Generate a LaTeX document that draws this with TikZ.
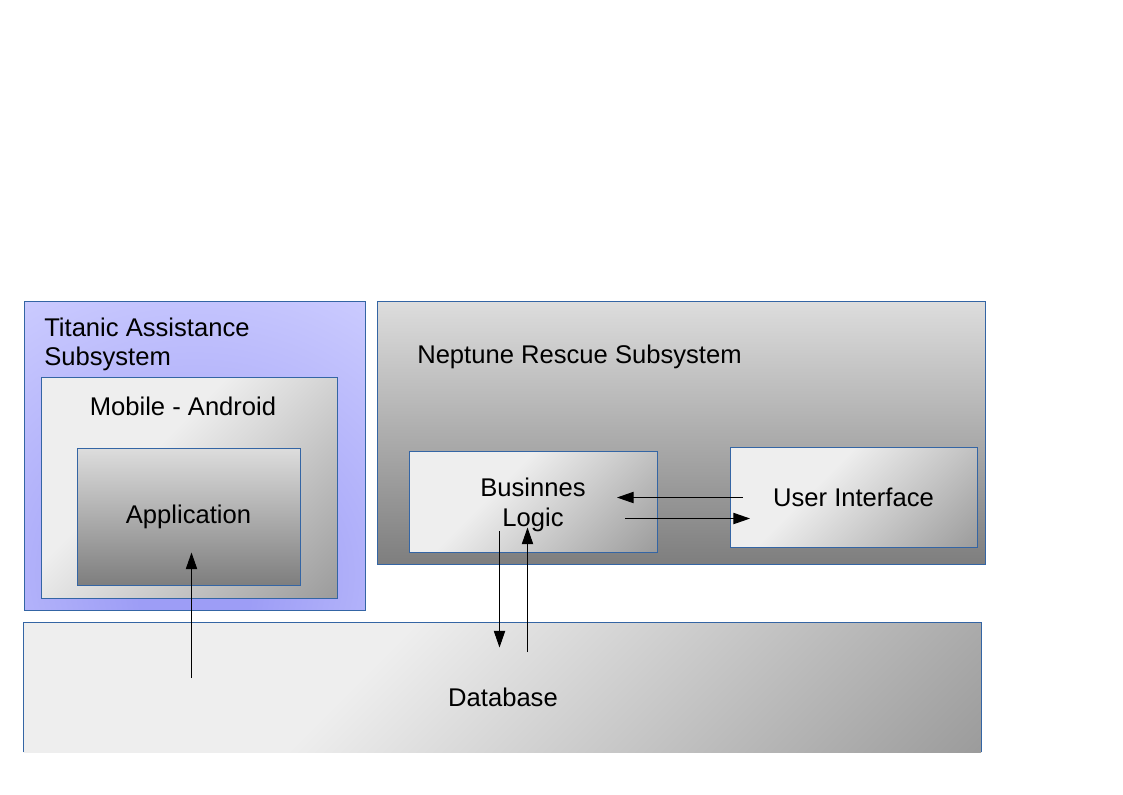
\documentclass[tikz,border=0pt]{standalone}
\usepackage{fontspec}
\setmainfont{Liberation Sans}
\usetikzlibrary{arrows.meta}

\definecolor{edgeblue}{HTML}{3465A4}
\definecolor{shlight}{HTML}{EEEEEE}
\definecolor{shdark}{HTML}{979797}
\definecolor{lavlight}{HTML}{CDCDFF}
\definecolor{lavdark}{HTML}{9D9DF6}
\definecolor{vtop}{HTML}{DDDDDD}
\definecolor{vbottom}{HTML}{7E7E7E}

\pgfdeclarehorizontalshading{diagfill}{100bp}{color(0bp)=(shlight); color(40bp)=(shlight); color(88bp)=(shdark); color(100bp)=(shdark)}
\pgfdeclareradialshading{lavglow}{\pgfpoint{0bp}{-25bp}}{color(0bp)=(lavdark); color(8bp)=(lavdark); color(48bp)=(lavlight); color(100bp)=(lavlight)}

\tikzset{
    box/.style={draw=edgeblue, line width=0.6pt, inner sep=0pt, align=center,
        font=\fontsize{19.2pt}{22.5pt}\selectfont},
    diag/.style={box, shade, shading=diagfill, shading angle=-45},
    fade/.style={box, top color=vtop, bottom color=vbottom},
    glow/.style={box, shade, shading=lavglow},
    title/.style={inner sep=0pt, align=left, font=\fontsize{19.2pt}{21.75pt}\selectfont},
    flow/.style={-{Triangle[length=12.5pt,width=8.5pt]}, line width=0.7pt}
}

\begin{document}
\begin{tikzpicture}[x=0.75pt,y=-0.75pt]
        \useasboundingbox (0,0) rectangle (1123,794);
        \node[glow, minimum width=255.75pt, minimum height=231.75pt] (titanic) at (194.5,455.5) {};
        \node[title, anchor=north west] (titanicTitle) at (44,317.5) {Titanic Assistance\\Subsystem};
        \node[diag, minimum width=222pt, minimum height=165.75pt] (mobile) at (189,487.5) {};
        \node[title, anchor=base] (mobileTitle) at (183,415) {Mobile - Android};
        \node[fade, minimum width=167.25pt, minimum height=102.75pt] (app) at (188.5,516.5) {Application};
        \node[fade, minimum width=456pt, minimum height=197.25pt] (neptune) at (681,432.5) {};
        \node[title, anchor=base west] (neptuneTitle) at (417,363.5) {Neptune Rescue Subsystem};
        \node[diag, minimum width=186pt, minimum height=75.75pt] (logic) at (533,501.5) {\raisebox{-2.2pt}[\height][\depth]{\parbox{4cm}{\centering Businnes\\Logic}}};
        \node[diag, minimum width=185.25pt, minimum height=75pt] (ui) at (853.5,497) {User Interface};
        \node[diag, draw=none, minimum width=717.75pt, minimum height=96.75pt] (db) at (502.5,687.5) {};
        \draw[edgeblue, line width=0.6pt] (db.south west) -- (db.north west) -- (db.north east) -- (db.south east);
        \node[title] (dbTitle) at (503,697) {Database};
        \coordinate (dbApp) at (191.5,678);
        \coordinate (appIn) at (191.5,552.5);
        \coordinate (logicOut) at (499.5,531);
        \coordinate (dbIn) at (499.5,647.5);
        \coordinate (dbOut) at (527.5,652);
        \coordinate (logicIn) at (527.5,527.5);
        \coordinate (uiOut) at (742.5,497.5);
        \coordinate (logicLeft) at (617,497.5);
        \coordinate (logicRight) at (625,518.5);
        \coordinate (uiIn) at (750,518.5);
        \draw[flow] (dbApp) -- (appIn);
        \draw[flow] (logicOut) -- (dbIn);
        \draw[flow] (dbOut) -- (logicIn);
        \draw[flow] (uiOut) -- (logicLeft);
        \draw[flow] (logicRight) -- (uiIn);
    \end{tikzpicture}
\end{document}
